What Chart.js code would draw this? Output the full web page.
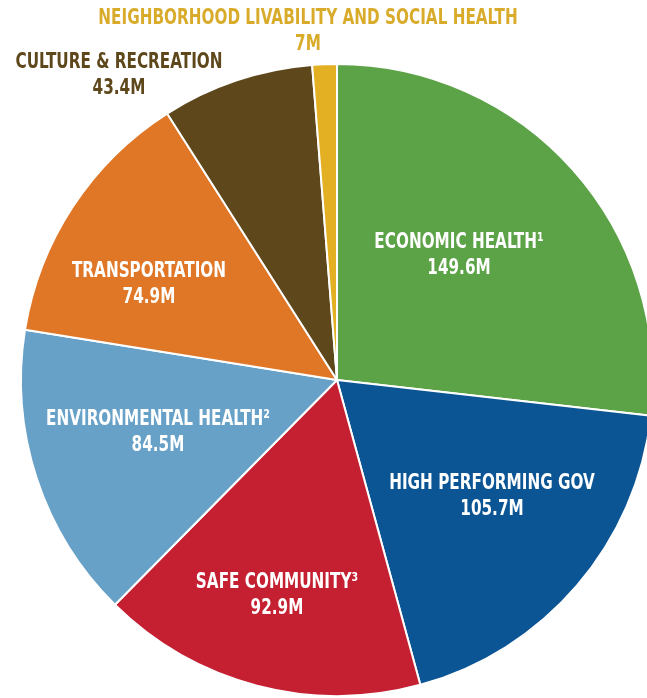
<!DOCTYPE html>
<html>
<head>
<meta charset="utf-8">
<script src="https://cdn.jsdelivr.net/npm/chart.js@4.4.1/dist/chart.umd.min.js"></script>
<style>
  html, body { margin: 0; padding: 0; background: #fff; overflow: hidden; }
  #wrap { position: absolute; left: 0; top: 0; width: 674px; height: 760px; }
</style>
</head>
<body>
<div id="wrap"><canvas id="budgetPie"></canvas></div>
<script>
// budget by priority area, millions
const categories = ['ECONOMIC HEALTH\u00B9', 'HIGH PERFORMING GOV', 'SAFE COMMUNITY\u00B3',
  'ENVIRONMENTAL HEALTH\u00B2', 'TRANSPORTATION', 'CULTURE & RECREATION',
  'NEIGHBORHOOD LIVABILITY AND SOCIAL HEALTH'];
const amounts = [149.6, 105.7, 92.9, 84.5, 74.9, 43.4, 7];
const amountLabels = ['149.6M', '105.7M', '92.9M', '84.5M', '74.9M', '43.4M', '7M'];

const sliceColors = ['#5ca246', '#0b5594', '#c42032', '#67a1c8', '#e07727', '#5d471b', '#e3b024'];
// label colour + offset from pie centre (px)
const labelColors = ['#fff', '#fff', '#fff', '#fff', '#fff', '#5d471b', '#d9ab2a'];
const labelOffsets = [[122, -125], [155, 116], [-60, 215], [-179, 52], [-188, -96], [-218, -305], [-29, -349]];

const sliceLabels = {
    id: 'sliceLabels',
    afterDatasetsDraw(chart) {
        const ctx = chart.ctx;
        const arc0 = chart.getDatasetMeta(0).data[0];
        const cx = arc0.x, cy = arc0.y;
        ctx.save();
        ctx.textAlign = 'center';
        ctx.textBaseline = 'middle';
        ctx.font = 'bold 22px "DejaVu Sans Condensed", "Liberation Sans Narrow", sans-serif';
        categories.forEach((name, i) => {
            ctx.save();
            ctx.translate(cx + labelOffsets[i][0], cy + labelOffsets[i][1]);
            ctx.scale(0.77, 1);  // squeeze to look like a condensed face
            ctx.fillStyle = labelColors[i];
            ctx.fillText(name, 0, -13);
            ctx.fillText(amountLabels[i], 0, 13);
            ctx.restore();
        });
        ctx.restore();
    }
};

new Chart(document.getElementById('budgetPie'), {
    type: 'pie',
    data: {
        labels: categories,
        datasets: [{
            data: amounts,
            backgroundColor: sliceColors,
            borderColor: '#fff',
            borderWidth: 2
        }]
    },
    options: {
        responsive: true,
        maintainAspectRatio: false,
        animation: false,
        layout: { padding: 20 },
        plugins: {
            legend: { display: false },
            tooltip: { enabled: false }
        }
    },
    plugins: [sliceLabels]
});
</script>
</body>
</html>
